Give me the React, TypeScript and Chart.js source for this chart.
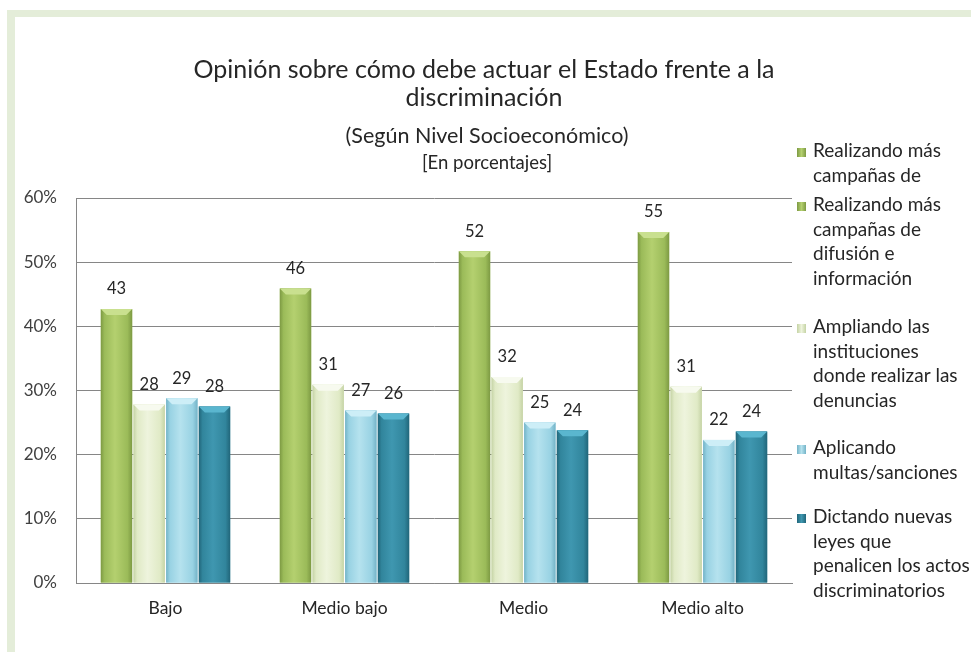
import React, { useEffect, useRef } from "react";
import { Chart, registerables } from "chart.js";

Chart.register(...registerables);

// ---------- data ----------
const categories = ["Bajo", "Medio bajo", "Medio", "Medio alto"];
const seriesNames = [
  "Realizando más campañas de difusión e información",
  "Ampliando las instituciones donde realizar las denuncias",
  "Aplicando multas/sanciones",
  "Dictando nuevas leyes que penalicen los actos discriminatorios",
];
const campanas = [42.7, 45.9, 51.7, 54.7];
const instituciones = [27.8, 30.9, 32.1, 30.6];
const multas = [28.8, 26.9, 25.0, 22.3];
const leyes = [27.5, 26.4, 23.8, 23.6];
const yTickValues = [0, 10, 20, 30, 40, 50, 60];

const titleLines = [
  "Opinión sobre cómo debe actuar el Estado frente a la",
  "discriminación",
];
const subtitle = "(Según Nivel Socioeconómico)";
const subsubtitle = "[En porcentajes]";

// legend entries: wrapped lines + series index (first entry is a truncated duplicate)
const legendLines = [
  ["Realizando más", "campañas de"],
  ["Realizando más", "campañas de", "difusión e", "información"],
  ["Ampliando las", "instituciones", "donde realizar las", "denuncias"],
  ["Aplicando", "multas/sanciones"],
  ["Dictando nuevas", "leyes que", "penalicen los actos", "discriminatorios"],
];
const legendSeries = [0, 0, 1, 2, 3];

// ---------- styles ----------
const FONT = "Lato, 'Open Sans', sans-serif";
const palette = [
  { base: "#9bbb59", edge: "#7d9a43", light: "#b4d06f", top: "#c9e08f" },
  { base: "#e0eac6", edge: "#c5d3a5", light: "#eef4dd", top: "#f7faef" },
  { base: "#98d2e3", edge: "#74b3c7", light: "#b5e2ee", top: "#cdeef7" },
  { base: "#31859c", edge: "#21667a", light: "#3f97b0", top: "#5ab6cf" },
];
const legendFirstY = [151, 205, 327, 448, 517];
const LEGEND_LH = 24.5;

const datasetsData = [campanas, instituciones, multas, leyes];

const framePlugin = {
  id: "frame",
  beforeDraw(chart: any) {
    const { ctx, width, height } = chart;
    ctx.save();
    ctx.fillStyle = "#ffffff";
    ctx.fillRect(0, 0, width, height);
    ctx.fillStyle = "#e4edd9";
    ctx.fillRect(7, 10, width - 7, 7);
    ctx.fillRect(7, 10, 8, height - 10);
    ctx.restore();
  },
};

const barStylePlugin = {
  id: "barStyle",
  afterDatasetsDraw(chart: any) {
    const ctx = chart.ctx;
    ctx.save();
    chart.data.datasets.forEach((ds: any, di: number) => {
      const meta = chart.getDatasetMeta(di);
      const p = palette[di];
      meta.data.forEach((bar: any, j: number) => {
        const w = bar.width;
        const left = bar.x - w / 2;
        const right = bar.x + w / 2;
        const top = bar.y;
        const bottom = bar.base;
        const g = ctx.createLinearGradient(left, 0, right, 0);
        g.addColorStop(0, p.edge);
        g.addColorStop(0.12, p.base);
        g.addColorStop(0.45, p.light);
        g.addColorStop(0.85, p.base);
        g.addColorStop(1, p.edge);
        ctx.fillStyle = g;
        ctx.fillRect(left, top, w, bottom - top);
        // top bevel
        const bev = Math.min(6, (bottom - top) / 2);
        ctx.beginPath();
        ctx.moveTo(left, top);
        ctx.lineTo(right, top);
        ctx.lineTo(right - bev, top + bev);
        ctx.lineTo(left + bev, top + bev);
        ctx.closePath();
        ctx.fillStyle = p.top;
        ctx.fill();
        // value label
        const v = ds.data[j];
        ctx.fillStyle = "#262626";
        ctx.font = `16.5px ${FONT}`;
        ctx.textAlign = "center";
        ctx.textBaseline = "middle";
        ctx.fillText(String(Math.round(v)), bar.x, top - 20);
      });
    });
    ctx.restore();
  },
};

const textPlugin = {
  id: "texts",
  afterDraw(chart: any) {
    const ctx = chart.ctx;
    ctx.save();
    const cx = 484;
    ctx.fillStyle = "#262626";
    ctx.textAlign = "center";
    ctx.textBaseline = "middle";
    ctx.font = `25px ${FONT}`;
    ctx.fillText(titleLines[0], cx, 70);
    ctx.fillText(titleLines[1], cx, 98);
    ctx.font = `21.5px ${FONT}`;
    ctx.fillText(subtitle, 487, 136);
    ctx.font = `18.5px ${FONT}`;
    ctx.fillText(subsubtitle, 487, 163);

    // legend
    ctx.textAlign = "left";
    ctx.font = `19px ${FONT}`;
    legendLines.forEach((lines, i) => {
      const y0 = legendFirstY[i];
      const p = palette[legendSeries[i]];
      const g = ctx.createLinearGradient(797, 0, 806, 0);
      g.addColorStop(0, p.edge);
      g.addColorStop(0.5, p.light);
      g.addColorStop(1, p.edge);
      ctx.fillStyle = g;
      ctx.fillRect(797, y0 - 3, 9, 9);
      ctx.fillStyle = "#262626";
      lines.forEach((ln, k) => {
        ctx.fillText(ln, 813, y0 + k * LEGEND_LH);
      });
    });
    ctx.restore();
  },
};

export default function App() {
  const ref = useRef<HTMLCanvasElement | null>(null);
  useEffect(() => {
    document.body.style.margin = "0";
    const canvas = ref.current!;
    const chart = new Chart(canvas, {
      type: "bar",
      data: {
        labels: categories,
        datasets: datasetsData.map((d, i) => ({
          label: seriesNames[i],
          data: d,
          backgroundColor: palette[i].base,
          borderWidth: 0,
          categoryPercentage: 0.73,
          barPercentage: 0.96,
        })),
      },
      options: {
        responsive: false,
        animation: false,
        devicePixelRatio: 1,
        layout: { padding: { left: 0, top: 198, right: 179, bottom: 0 } },
        plugins: {
          legend: { display: false },
          title: { display: false },
          tooltip: { enabled: false },
        },
        scales: {
          x: {
            grid: { display: false, drawTicks: false },
            border: { display: true, color: "#868686", width: 1 },
            ticks: {
              color: "#262626",
              font: { family: FONT, size: 17.5 },
              padding: 15,
              maxRotation: 0,
            },
            afterFit: (s: any) => {
              s.height = 69;
            },
          },
          y: {
            min: 0,
            max: 60,
            afterBuildTicks: (s: any) => {
              s.ticks = yTickValues.map((v) => ({ value: v }));
            },
            grid: { color: "#868686", drawTicks: false, lineWidth: 1 },
            border: { display: true, color: "#868686", width: 1 },
            ticks: {
              color: "#404040",
              font: { family: FONT, size: 17 },
              padding: 19,
              callback: (v: any) => `${v}%`,
            },
            afterFit: (s: any) => {
              s.width = 76;
            },
          },
        },
      },
      plugins: [framePlugin, barStylePlugin, textPlugin],
    });
    return () => chart.destroy();
  }, []);
  return (
    <div style={{ position: "absolute", left: 0, top: 0, width: 971, height: 652 }}>
      <canvas ref={ref} width={971} height={652} style={{ width: 971, height: 652, display: "block" }} />
    </div>
  );
}
